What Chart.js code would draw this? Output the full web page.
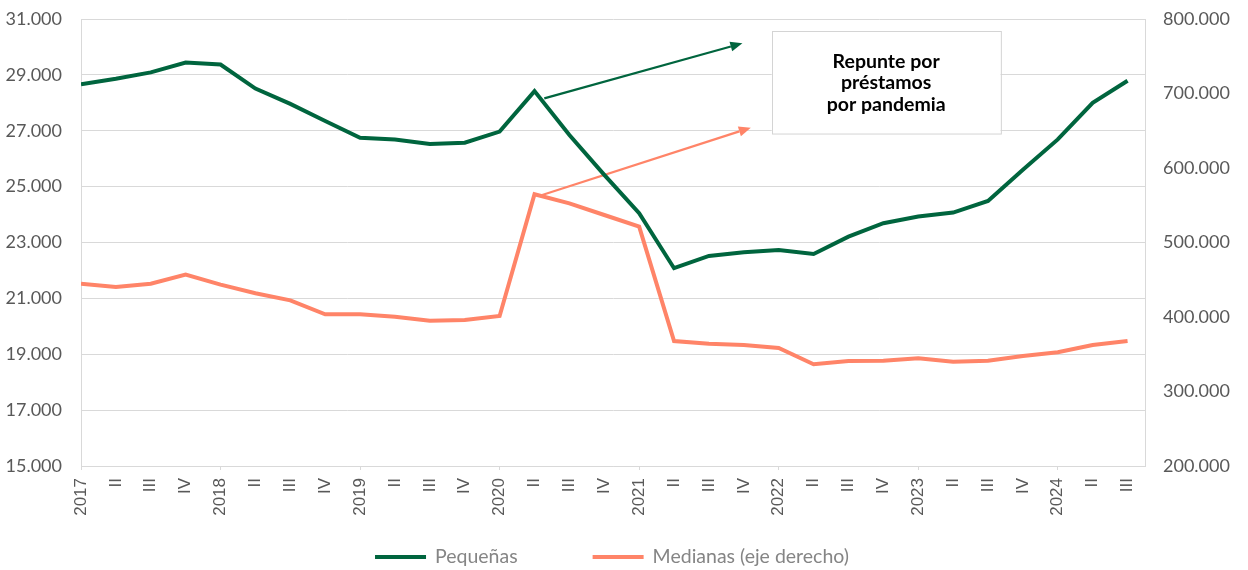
<!DOCTYPE html>
<html lang="es">
<head>
<meta charset="utf-8">
<title>Pequeñas y Medianas</title>
<script src="https://cdn.jsdelivr.net/npm/chart.js@4.4.1/dist/chart.umd.min.js"></script>
<style>
  html, body { margin: 0; padding: 0; background: #fff; }
  #wrap { width: 1248px; height: 570px; }
</style>
</head>
<body>
<div id="wrap"><canvas id="chart" width="1248" height="570"></canvas></div>
<script>
// categorías trimestrales
const quarterLabels = [
    '2017', 'II', 'III', 'IV',
    '2018', 'II', 'III', 'IV',
    '2019', 'II', 'III', 'IV',
    '2020', 'II', 'III', 'IV',
    '2021', 'II', 'III', 'IV',
    '2022', 'II', 'III', 'IV',
    '2023', 'II', 'III', 'IV',
    '2024', 'II', 'III'
];

// eje izquierdo
const pequenas = [
    28660, 28860, 29090, 29440, 29370, 28510, 27960, 27350,
    26750, 26690, 26530, 26570, 26970, 28420, 26850, 25420,
    24050, 22080, 22520, 22650, 22730, 22590, 23210, 23690,
    23930, 24070, 24490, 25600, 26690, 28000, 28790
];

// eje derecho
const medianas = [
    444700, 440300, 444700, 456800, 443400, 431800, 422400, 403600,
    403600, 400400, 395000, 396000, 401300, 564700, 552600, 536900,
    521300, 367800, 364200, 362400, 358400, 336500, 340900, 341400,
    344600, 340000, 341400, 347700, 352600, 362400, 367800
];

const seriesNames = ['Pequeñas', 'Medianas (eje derecho)'];
const seriesColors = ['#00653e', '#ff8468'];

const leftTicks = { min: 15000, max: 31000, step: 2000 };
const rightTicks = { min: 200000, max: 800000, step: 100000 };

// anotación: flechas y recuadro en coordenadas de datos
const arrowPequenas = { from: [13.28, 28160], to: [18.96, 30130], axis: 'y' };
const arrowMedianas = { from: [13.22, 563800], to: [19.20, 654100], axis: 'y1' };
const noteBox = { x0: 19.80, x1: 26.36, y0: 30580, y1: 26910 };
const noteLines = ['Repunte por', 'préstamos', 'por pandemia'];

const fmt = v => String(v).replace(/\B(?=(\d{3})+(?!\d))/g, '.');

const annotationPlugin = {
    id: 'annotation',
    beforeDatasetsDraw(chart) {
        const ctx = chart.ctx;
        const x = chart.scales.x;
        const draw = (arrow, color) => {
            const sy = chart.scales[arrow.axis];
            const x0 = x.getPixelForValue(arrow.from[0]);
            const y0 = sy.getPixelForValue(arrow.from[1]);
            const x1 = x.getPixelForValue(arrow.to[0]);
            const y1 = sy.getPixelForValue(arrow.to[1]);
            const ang = Math.atan2(y1 - y0, x1 - x0);
            const head = 12, half = 5;
            ctx.save();
            ctx.strokeStyle = color;
            ctx.fillStyle = color;
            ctx.lineWidth = 2.2;
            ctx.beginPath();
            ctx.moveTo(x0, y0);
            ctx.lineTo(x1 - Math.cos(ang) * head, y1 - Math.sin(ang) * head);
            ctx.stroke();
            ctx.beginPath();
            ctx.moveTo(x1, y1);
            ctx.lineTo(x1 - Math.cos(ang) * head - Math.sin(ang) * half, y1 - Math.sin(ang) * head + Math.cos(ang) * half);
            ctx.lineTo(x1 - Math.cos(ang) * head + Math.sin(ang) * half, y1 - Math.sin(ang) * head - Math.cos(ang) * half);
            ctx.closePath();
            ctx.fill();
            ctx.restore();
        };
        draw(arrowPequenas, seriesColors[0]);
        draw(arrowMedianas, seriesColors[1]);
    },
    afterDatasetsDraw(chart) {
        const ctx = chart.ctx;
        const x = chart.scales.x, y = chart.scales.y;
        const left = x.getPixelForValue(noteBox.x0);
        const right = x.getPixelForValue(noteBox.x1);
        const top = y.getPixelForValue(noteBox.y0);
        const bottom = y.getPixelForValue(noteBox.y1);
        ctx.save();
        ctx.fillStyle = '#ffffff';
        ctx.strokeStyle = '#d4d4d4';
        ctx.lineWidth = 1;
        ctx.fillRect(left, top, right - left, bottom - top);
        ctx.strokeRect(Math.round(left) + 0.5, Math.round(top) + 0.5, right - left, bottom - top);
        ctx.fillStyle = '#000000';
        ctx.font = 'bold 19.5px Lato';
        ctx.textAlign = 'center';
        ctx.textBaseline = 'middle';
        const lh = 21.7;
        const cy = (top + bottom) / 2 + 1;
        noteLines.forEach((t, i) => {
            ctx.fillText(t, (left + right) / 2, cy + (i - (noteLines.length - 1) / 2) * lh);
        });
        ctx.restore();
    }
};

// leyenda propia, centrada bajo el gráfico
const legendPlugin = {
    id: 'bottomLegend',
    afterDraw(chart) {
        const ctx = chart.ctx;
        const lineW = 51, gapText = 9, gapItem = 75;
        ctx.save();
        ctx.font = '19.5px Lato';
        const widths = chart.data.datasets.map(d => ctx.measureText(d.label).width);
        const total = widths.reduce((a, w) => a + lineW + gapText + w, 0) + gapItem * (widths.length - 1);
        const area = chart.chartArea;
        let cx = (area.left + area.right) / 2 - total / 2 - 1;
        const cy = chart.height - 13;
        chart.data.datasets.forEach((d, i) => {
            ctx.fillStyle = d.borderColor;
            ctx.fillRect(cx, cy - 2, lineW, 4);
            cx += lineW + gapText;
            ctx.fillStyle = '#858585';
            ctx.textBaseline = 'middle';
            ctx.fillText(d.label, cx, cy);
            cx += widths[i] + gapItem;
        });
        ctx.restore();
    }
};

// el eje vertical no debe reservar margen extra arriba/abajo
const fixVertical = width => scale => {
    scale.width = width;
    scale.paddingTop = 0;
    scale.paddingBottom = 0;
};

Chart.defaults.font.family = 'Lato';
Chart.defaults.color = '#595959';

new Chart(document.getElementById('chart'), {
    type: 'line',
    data: {
        labels: quarterLabels.map((_, i) => i),
        datasets: [
            {
                label: seriesNames[0],
                data: pequenas,
                yAxisID: 'y',
                borderColor: seriesColors[0],
                borderWidth: 4,
                pointRadius: 0,
                tension: 0,
                order: 1,
            },
            {
                label: seriesNames[1],
                data: medianas,
                yAxisID: 'y1',
                borderColor: seriesColors[1],
                borderWidth: 4,
                pointRadius: 0,
                tension: 0,
                order: 2,
            }
        ]
    },
    options: {
        responsive: false,
        animation: false,
        layout: { padding: { top: 19, left: 0, right: 0, bottom: 44 } },
        plugins: {
            legend: { display: false },
            tooltip: { enabled: false },
        },
        scales: {
            x: {
                type: 'linear',
                min: 0,
                max: 30.5,
                afterFit(scale) { scale.height = 60; scale.paddingLeft = 0; scale.paddingRight = 0; },
                border: { display: true, color: '#d9d9d9' },
                grid: {
                    drawOnChartArea: false,
                    drawTicks: true,
                    tickLength: 4,
                    color: c => (c.tick && c.tick.value % 4 === 0) ? '#d9d9d9' : 'rgba(0,0,0,0)',
                },
                ticks: {
                    stepSize: 1,
                    autoSkip: false,
                    includeBounds: false,
                    minRotation: 90,
                    maxRotation: 90,
                    padding: 8,
                    color: '#595959',
                    font: { family: 'Liberation Sans', size: 17 },
                    callback: v => Number.isInteger(v) && quarterLabels[v] !== undefined ? quarterLabels[v] : '',
                }
            },
            y: {
                position: 'left',
                min: leftTicks.min,
                max: leftTicks.max,
                afterFit: fixVertical(81),
                border: { display: true, color: '#d9d9d9' },
                grid: { color: '#d9d9d9', drawTicks: false },
                ticks: {
                    stepSize: leftTicks.step,
                    padding: 19,
                    color: '#595959',
                    font: { size: 18 },
                    callback: v => fmt(v),
                }
            },
            y1: {
                position: 'right',
                min: rightTicks.min,
                max: rightTicks.max,
                afterFit: fixVertical(103),
                border: { display: true, color: '#d9d9d9' },
                grid: { drawOnChartArea: false, drawTicks: false },
                ticks: {
                    stepSize: rightTicks.step,
                    padding: 18,
                    color: '#595959',
                    font: { size: 18 },
                    callback: v => fmt(v),
                }
            }
        }
    },
    plugins: [annotationPlugin, legendPlugin]
});
</script>
</body>
</html>
